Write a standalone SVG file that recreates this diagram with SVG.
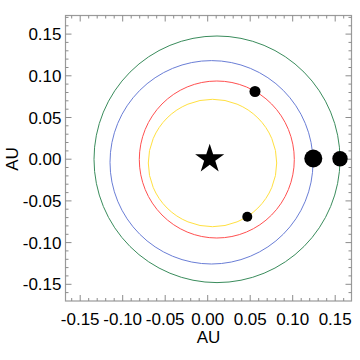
<svg xmlns="http://www.w3.org/2000/svg" width="360" height="360" viewBox="0 0 360 360">
<style>
.orbit{fill:none;stroke-width:1}
.tick{fill:none;stroke:#8c8c8c;stroke-width:1}
.frame{fill:none;stroke:#9a9a9a;stroke-width:1.2}
.lbl{font-family:"Liberation Sans",Arial,sans-serif;font-size:17px;fill:#000}
.planet{fill:#000}
</style>
<rect width="360" height="360" fill="#fff"/>
<g id="axes">
<rect class="frame" x="65.5" y="15.5" width="286" height="285.5"/>
<path class="tick" d="M71.7 301v-3M88.7 301v-3M97.2 301v-3M105.7 301v-3M114.2 301v-3M131.2 301v-3M139.7 301v-3M148.2 301v-3M156.7 301v-3M173.7 301v-3M182.2 301v-3M190.7 301v-3M199.2 301v-3M216.2 301v-3M224.7 301v-3M233.2 301v-3M241.7 301v-3M258.7 301v-3M267.2 301v-3M275.7 301v-3M284.2 301v-3M301.2 301v-3M309.7 301v-3M318.2 301v-3M326.7 301v-3M343.7 301v-3
M80.2 301v-6M122.7 301v-6M165.2 301v-6M207.7 301v-6M250.2 301v-6M292.7 301v-6M335.2 301v-6
M71.7 15.5v3M88.7 15.5v3M97.2 15.5v3M105.7 15.5v3M114.2 15.5v3M131.2 15.5v3M139.7 15.5v3M148.2 15.5v3M156.7 15.5v3M173.7 15.5v3M182.2 15.5v3M190.7 15.5v3M199.2 15.5v3M216.2 15.5v3M224.7 15.5v3M233.2 15.5v3M241.7 15.5v3M258.7 15.5v3M267.2 15.5v3M275.7 15.5v3M284.2 15.5v3M301.2 15.5v3M309.7 15.5v3M318.2 15.5v3M326.7 15.5v3M343.7 15.5v3
M80.2 15.5v6M122.7 15.5v6M165.2 15.5v6M207.7 15.5v6M250.2 15.5v6M292.7 15.5v6M335.2 15.5v6
M65.5 17.4h3M65.5 25.8h3M65.5 42.4h3M65.5 50.8h3M65.5 59.1h3M65.5 67.5h3M65.5 84.1h3M65.5 92.5h3M65.5 100.8h3M65.5 109.2h3M65.5 125.8h3M65.5 134.2h3M65.5 142.5h3M65.5 150.9h3M65.5 167.5h3M65.5 175.9h3M65.5 184.2h3M65.5 192.6h3M65.5 209.2h3M65.5 217.6h3M65.5 225.9h3M65.5 234.3h3M65.5 250.9h3M65.5 259.3h3M65.5 267.6h3M65.5 275.9h3M65.5 292.6h3
M65.5 34.1h6M65.5 75.8h6M65.5 117.5h6M65.5 159.2h6M65.5 200.9h6M65.5 242.6h6M65.5 284.3h6
M351.5 17.4h-3M351.5 25.8h-3M351.5 42.4h-3M351.5 50.8h-3M351.5 59.1h-3M351.5 67.5h-3M351.5 84.1h-3M351.5 92.5h-3M351.5 100.8h-3M351.5 109.2h-3M351.5 125.8h-3M351.5 134.2h-3M351.5 142.5h-3M351.5 150.9h-3M351.5 167.5h-3M351.5 175.9h-3M351.5 184.2h-3M351.5 192.6h-3M351.5 209.2h-3M351.5 217.6h-3M351.5 225.9h-3M351.5 234.3h-3M351.5 250.9h-3M351.5 259.3h-3M351.5 267.6h-3M351.5 275.9h-3M351.5 292.6h-3
M351.5 34.1h-6M351.5 75.8h-6M351.5 117.5h-6M351.5 159.2h-6M351.5 200.9h-6M351.5 242.6h-6M351.5 284.3h-6"/>
<g class="lbl" text-anchor="end">
<text x="61.5" y="40.1">0.15</text>
<text x="61.5" y="81.8">0.10</text>
<text x="61.5" y="123.5">0.05</text>
<text x="61.5" y="165.2">0.00</text>
<text x="61.5" y="206.9">-0.05</text>
<text x="61.5" y="248.6">-0.10</text>
<text x="61.5" y="290.3">-0.15</text>
</g>
<g class="lbl" text-anchor="middle">
<text x="80.2" y="325">-0.15</text>
<text x="122.7" y="325">-0.10</text>
<text x="165.2" y="325">-0.05</text>
<text x="207.7" y="325">0.00</text>
<text x="250.2" y="325">0.05</text>
<text x="292.7" y="325">0.10</text>
<text x="335.2" y="325">0.15</text>
<text x="208.5" y="343">AU</text>
<text transform="translate(18 159) rotate(-90)">AU</text>
</g>
</g>
<g id="orbits">
<ellipse class="orbit" stroke="#3a8c5c" cx="217" cy="159.3" rx="123" ry="123.3"/>
<ellipse class="orbit" stroke="#6a7ed6" cx="211.5" cy="162.3" rx="101.5" ry="101.7"/>
<ellipse class="orbit" stroke="#ff5050" cx="216.8" cy="159.5" rx="77.5" ry="78.5"/>
<ellipse class="orbit" stroke="#ffe040" cx="212.5" cy="163" rx="64.2" ry="63.7"/>
</g>
<g id="star">
<polygon fill="#000" points="209.7,143.7 213.14,154.27 224.25,154.27 215.26,160.81 218.69,171.38 209.7,164.85 200.71,171.38 204.14,160.81 195.15,154.27 206.26,154.27"/>
</g>
<g id="planets">
<circle class="planet" cx="255" cy="91.5" r="5.5"/>
<circle class="planet" cx="247.3" cy="216.7" r="5"/>
<circle class="planet" cx="313.3" cy="158.5" r="9"/>
<circle class="planet" cx="340" cy="158.8" r="7.7"/>
</g>
</svg>
